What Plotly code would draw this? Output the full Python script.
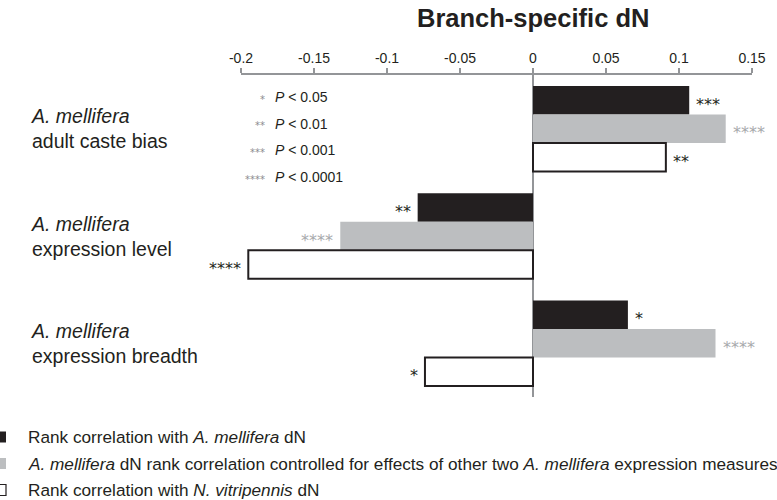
import plotly.graph_objects as go

# Data
categories = ["adult caste bias", "expression level", "expression breadth"]
species = "A. mellifera"

series_names = [
    "Rank correlation with <i>A. mellifera</i> dN",
    "<i>A. mellifera</i> dN rank correlation controlled for effects of other two <i>A. mellifera</i> expression measures",
    "Rank correlation with <i>N. vitripennis</i> dN",
]
am_dn = [0.107, -0.079, 0.065]
am_dn_controlled = [0.132, -0.132, 0.125]
nv_dn = [0.091, -0.195, -0.074]

am_dn_sig = ["***", "**", "*"]
am_dn_controlled_sig = ["****", "****", "****"]
nv_dn_sig = ["**", "****", "*"]

sig_levels = ["*", "**", "***", "****"]
sig_pvalues = ["0.05", "0.01", "0.001", "0.0001"]

tick_vals = [-0.2, -0.15, -0.1, -0.05, 0, 0.05, 0.1, 0.15]
tick_text = ["-0.2", "-0.15", "-0.1", "-0.05", "0", "0.05", "0.1", "0.15"]

# Styling
W, H = 777, 500
ML, MR, MT, MB = 241, 25, 75, 103
PW, PH = W - ML - MR, H - MT - MB
FONT = "Arial, Liberation Sans, sans-serif"
STAR_FONT = "DejaVu Sans, sans-serif"
DARK = "#231f20"
GREY = "#bcbec0"
STAR_GREY = "#a7a9ac"
AXIS = "#939598"

fills = [DARK, GREY, "white"]
edges = [DARK, GREY, DARK]
edge_w = [0, 0, 2]
star_cols = [DARK, STAR_GREY, DARK]
values = [am_dn, am_dn_controlled, nv_dn]
sigs = [am_dn_sig, am_dn_controlled_sig, nv_dn_sig]


def px_x(px):
    return (px - ML) / PW


def px_y(py):
    return (MT + PH - py) / PH


fig = go.Figure()
for i in range(3):
    fig.add_trace(go.Bar(
        y=categories, x=values[i], orientation="h",
        marker=dict(color=fills[i], line=dict(color=edges[i], width=edge_w[i])),
        name=series_names[i], showlegend=False,
    ))

annotations = []
shapes = []

# Significance stars beside each bar
bar_unit = (1 - 0.203) / 3
for i in range(3):
    for j, v in enumerate(values[i]):
        pos = v >= 0
        annotations.append(dict(
            x=v, y=j + (i - 1) * bar_unit, xref="x", yref="y",
            text=sigs[i][j], showarrow=False,
            xanchor="left" if pos else "right",
            xshift=5 if pos else -5, yshift=-4,
            font=dict(family=STAR_FONT, size=16, color=star_cols[i]),
        ))

# Category labels
for j, cat in enumerate(categories):
    annotations.append(dict(
        x=px_x(29), y=j, xref="paper", yref="y",
        text=f"<i>{species}</i><br>{cat}", showarrow=False,
        xanchor="left", yanchor="middle", align="left",
        font=dict(family=FONT, size=19.5, color=DARK),
    ))

# Significance key
for k, (s, p) in enumerate(zip(sig_levels, sig_pvalues)):
    yy = px_y(97 + k * 26.7)
    annotations.append(dict(
        x=px_x(267), y=yy, xref="paper", yref="paper", text=s,
        showarrow=False, xanchor="right", yanchor="middle", yshift=-2,
        font=dict(family=STAR_FONT, size=10, color="#8a8c8e"),
    ))
    annotations.append(dict(
        x=px_x(273), y=yy, xref="paper", yref="paper",
        text=f"<i>P</i> &lt; {p}",
        showarrow=False, xanchor="left", yanchor="middle",
        font=dict(family=FONT, size=14, color=DARK),
    ))

# Title
annotations.append(dict(
    x=0, y=px_y(18), xref="x", yref="paper",
    text="<b>Branch-specific dN</b>", showarrow=False,
    xanchor="center", yanchor="middle",
    font=dict(family=FONT, size=25.5, color=DARK),
))

# Series key at the bottom
for i in range(3):
    cy = 437 + i * 26.5
    shapes.append(dict(
        type="rect", xref="paper", yref="paper",
        x0=px_x(-5), x1=px_x(6), y0=px_y(cy + 5.5), y1=px_y(cy - 5.5),
        fillcolor=fills[i], line=dict(color=edges[i], width=1.2 if i == 2 else 0),
        layer="above",
    ))
    annotations.append(dict(
        x=px_x(26), y=px_y(cy), xref="paper", yref="paper",
        text=series_names[i], showarrow=False,
        xanchor="left", yanchor="middle",
        font=dict(family=FONT, size=17.2, color=DARK),
    ))

fig.update_layout(
    width=W, height=H,
    margin=dict(l=ML, r=MR, t=MT, b=MB),
    paper_bgcolor="white", plot_bgcolor="white",
    barmode="group", bargap=0.203, bargroupgap=0,
    showlegend=False,
    annotations=annotations, shapes=shapes,
    xaxis=dict(
        side="top", range=[-0.2, 0.15],
        tickvals=tick_vals, ticktext=tick_text,
        ticks="outside", ticklen=5, tickwidth=1.5, tickcolor=AXIS,
        showline=True, linecolor=AXIS, linewidth=1.5,
        showgrid=False, zeroline=True, zerolinecolor=AXIS, zerolinewidth=2,
        tickfont=dict(family=FONT, size=14, color=DARK),
    ),
    yaxis=dict(
        range=[2.5, -0.5], showticklabels=False, showgrid=False,
        zeroline=False, showline=False, ticks="",
    ),
)

fig.write_html("out.html")
